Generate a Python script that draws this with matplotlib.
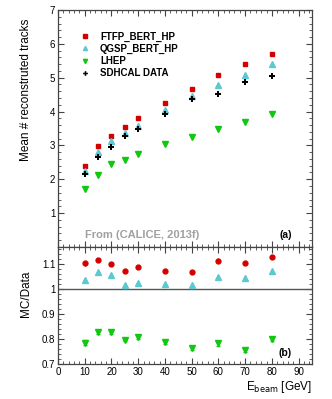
import matplotlib.pyplot as plt
import numpy as np
from matplotlib.ticker import MultipleLocator

plt.rcParams['font.family'] = ['Liberation Sans', 'DejaVu Sans']

# beam energies (GeV)
energy = [10, 15, 20, 25, 30, 40, 50, 60, 70, 80]

# mean number of reconstructed tracks
ftfp = [2.39, 2.97, 3.27, 3.55, 3.81, 4.26, 4.68, 5.07, 5.39, 5.69]
qgsp = [2.24, 2.82, 3.12, 3.37, 3.58, 4.06, 4.45, 4.78, 5.09, 5.41]
lhep = [1.70, 2.14, 2.45, 2.56, 2.76, 3.03, 3.25, 3.48, 3.69, 3.94]
data = [2.16, 2.65, 2.96, 3.27, 3.49, 3.94, 4.37, 4.53, 4.87, 5.04]

# MC / data ratios
r_ftfp = [1.105, 1.117, 1.103, 1.075, 1.091, 1.075, 1.069, 1.115, 1.104, 1.128]
r_qgsp = [1.036, 1.069, 1.056, 1.019, 1.025, 1.023, 1.017, 1.051, 1.045, 1.072]
r_lhep = [0.785, 0.829, 0.827, 0.796, 0.809, 0.788, 0.763, 0.783, 0.756, 0.799]
r_ftfp_err = [0.010, 0.007, 0.006, 0.004, 0.006, 0.006, 0.006, 0.009, 0.007, 0.008]
r_qgsp_err = [0.009, 0.004, 0.005, 0.003, 0.004, 0.004, 0.004, 0.008, 0.004, 0.008]
r_lhep_err = [0.010, 0.009, 0.008, 0.004, 0.008, 0.006, 0.007, 0.009, 0.007, 0.008]

red = '#d40000'
cyan = '#5cc8d0'
green = '#10c810'

fig = plt.figure(figsize=(3.32, 3.99), dpi=100)
ax1 = fig.add_axes([0.1747, 0.381, 0.765, 0.594])
ax2 = fig.add_axes([0.1747, 0.0877, 0.765, 0.2933])

# Top panel
ax1.plot(energy, ftfp, ls='none', marker='s', ms=3.3, color=red, label='FTFP_BERT_HP')
ax1.plot(energy, qgsp, ls='none', marker='^', ms=3.8, color=cyan, label='QGSP_BERT_HP')
ax1.plot(energy, lhep, ls='none', marker='v', ms=3.8, color=green, label='LHEP')
ax1.plot(energy, data, ls='none', marker='P', ms=4.2, color='k', mew=0, label='SDHCAL DATA')
ax1.set_xlim(0, 95)
ax1.set_ylim(0, 7)
ax1.set_ylabel('Mean # reconstruted tracks', fontsize=8.5)
ax1.yaxis.set_label_coords(-0.102, 0.665)
ax1.yaxis.label.set_va('bottom')
ax1.set_yticks([1, 2, 3, 4, 5, 6, 7])
ax1.yaxis.set_minor_locator(MultipleLocator(0.2))
ax1.xaxis.set_major_locator(MultipleLocator(10))
ax1.xaxis.set_minor_locator(MultipleLocator(2))
ax1.tick_params(labelbottom=False)
leg = ax1.legend(loc='upper left', bbox_to_anchor=(0.07, 0.925), frameon=False,
                 prop={'weight': 'bold', 'size': 7}, handlelength=1.0, markerscale=0.8,
                 handletextpad=1.1, labelspacing=0.22, borderaxespad=0)
ax1.text(0.33, 0.03, 'From (CALICE, 2013f)', transform=ax1.transAxes, color='#a0a0a0',
         fontsize=8, fontweight='bold', ha='center', va='bottom')
ax1.text(0.92, 0.03, '(a)', transform=ax1.transAxes, fontsize=7.5, fontweight='bold',
         ha='right', va='bottom')

# Bottom panel
ax2.axhline(1, color='#555555', lw=1.0)
ax2.errorbar(energy, r_ftfp, yerr=r_ftfp_err, ls='none', marker='o', ms=3.5, color=red,
             elinewidth=0.8, capsize=0)
ax2.errorbar(energy, r_qgsp, yerr=r_qgsp_err, ls='none', marker='^', ms=3.8, color=cyan,
             elinewidth=0.8, capsize=0)
ax2.errorbar(energy, r_lhep, yerr=r_lhep_err, ls='none', marker='v', ms=3.8, color=green,
             elinewidth=0.8, capsize=1.2)
ax2.set_xlim(0, 95)
ax2.set_ylim(0.7, 1.17)
ax2.set_yticks([0.7, 0.8, 0.9, 1.0, 1.1])
ax2.set_yticklabels(['0.7', '0.8', '0.9', '1', '1.1'])
ax2.yaxis.set_minor_locator(MultipleLocator(0.02))
ax2.xaxis.set_major_locator(MultipleLocator(10))
ax2.xaxis.set_minor_locator(MultipleLocator(2))
ax2.set_ylabel('MC/Data', fontsize=8.5)
ax2.yaxis.set_label_coords(-0.102, 0.6)
ax2.yaxis.label.set_va('bottom')
ax2.set_xlabel(r'E$_{\rm beam}$ [GeV]', fontsize=8.5, labelpad=0)
ax2.xaxis.set_label_coords(1.0, -0.13)
ax2.xaxis.label.set_ha('right')
ax2.text(0.92, 0.05, '(b)', transform=ax2.transAxes, fontsize=7.5, fontweight='bold',
         ha='right', va='bottom')

for ax in (ax1, ax2):
    ax.tick_params(which='both', direction='in', top=True, right=True, labelsize=7,
                   color='#444444', pad=2)
    ax.tick_params(which='major', length=4, width=0.8)
    ax.tick_params(which='minor', length=2, width=0.6)
    for sp in ax.spines.values():
        sp.set_color('#444444')
        sp.set_linewidth(0.9)

fig.savefig('out.png', dpi=100)
